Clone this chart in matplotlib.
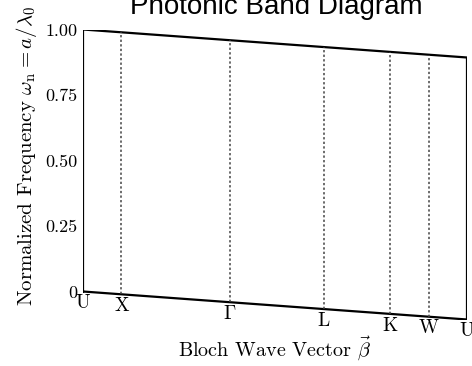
import matplotlib
matplotlib.use("Agg")
import matplotlib.pyplot as plt
from matplotlib.transforms import Affine2D, offset_copy

plt.rcParams["mathtext.fontset"] = "cm"
plt.rcParams["axes.formatter.use_mathtext"] = True

# pontos de alta simetria (comprimento acumulado do caminho)
pontos = ["U", "X", r"$\Gamma$", "L", "K", "W", "U"]
posicoes = [0.0, 0.354, 1.354, 2.220, 2.832, 3.186, 3.540]
yticks = [0, 0.25, 0.50, 0.75, 1.00]
ylabels = ["0", "0.25", "0.50", "0.75", "1.00"]

queda = 28 / 262  # inclinacao do quadro

fig = plt.figure(figsize=(4.72, 3.66), dpi=100)
ax = fig.add_axes([83 / 472, 1 - 319.5 / 366, 384 / 472, 290 / 366])

# cisalhamento: y' = y - k*x
k = queda / posicoes[-1]
tr = Affine2D.from_values(1, -k, 0, 1, 0, 0) + ax.transData

# quadro
x0, x1 = posicoes[0], posicoes[-1]
ax.plot([x0, x1, x1, x0, x0], [0, 0, 1, 1, 0], color="black", lw=1.6,
        transform=tr, solid_joinstyle="miter")

# linhas pontilhadas
for p in posicoes[1:-1]:
    ax.plot([p, p], [0, 1], ls=(0, (1.5, 1.5)), color="#444444", lw=1.1,
            transform=tr)

# rotulos do eixo x
tr_txt = offset_copy(tr, fig=fig, y=-2, units="points")
for p, nome in zip(posicoes, pontos):
    ax.text(p, 0, nome, transform=tr_txt, ha="center", va="top",
            family="cmr10", fontsize=14)

ax.set_xlim(x0, x1)
ax.set_ylim(-queda, 1.0)
ax.set_xticks([])
ax.set_yticks(yticks)
ax.set_yticklabels(ylabels, family="cmr10", fontsize=13)
ax.tick_params(axis="y", length=0, pad=4)
for s in ax.spines.values():
    s.set_visible(False)

fig.text(276.5 / 472, 1 - 14 / 366, "Photonic Band Diagram",
         family="Liberation Sans", fontsize=20, ha="center", va="baseline")
fig.text(275 / 472, 1 - 357 / 366, r"Bloch Wave Vector $\vec{\beta}$",
         family="cmr10", fontsize=14.5, ha="center", va="baseline")
fig.text(27 / 472, 1 - 156 / 366,
         r"Normalized Frequency $\omega_{\rm n} = a/\lambda_0$",
         family="cmr10", fontsize=15, ha="center", va="center", rotation=90)

fig.savefig("out.png", dpi=100)
